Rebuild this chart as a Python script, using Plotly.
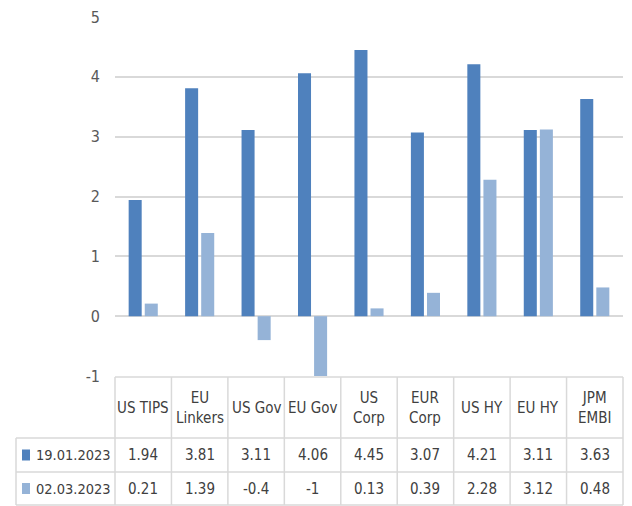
import plotly.graph_objects as go

categories = ["US TIPS", "EU<br>Linkers", "US Gov", "EU Gov", "US<br>Corp", "EUR<br>Corp", "US HY", "EU HY", "JPM<br>EMBI"]
series_names = ["19.01.2023", "02.03.2023"]
values_jan = [1.94, 3.81, 3.11, 4.06, 4.45, 3.07, 4.21, 3.11, 3.63]
values_mar = [0.21, 1.39, -0.4, -1, 0.13, 0.39, 2.28, 3.12, 0.48]
value_labels_jan = ["1.94", "3.81", "3.11", "4.06", "4.45", "3.07", "4.21", "3.11", "3.63"]
value_labels_mar = ["0.21", "1.39", "-0.4", "-1", "0.13", "0.39", "2.28", "3.12", "0.48"]
y_ticks = [-1, 0, 1, 2, 3, 4, 5]
y_tick_text = ["-1", "0", "1", "2", "3", "4", "5"]
colors = ["#4F81BD", "#95B3D7"]

W, H = 632, 506
L, R, T, B = 115, 9, 17, 130
PW, PH = W - L - R, H - T - B
FONT = "DejaVu Sans Condensed, Liberation Sans Narrow, sans-serif"
FS = 15
GRID = "#D9D9D9"
TXT = "#404040"

def px_x(px):
    return (px - L) / PW

def px_y(px):
    return (H - B - px) / PH

xs = list(range(len(categories)))
fig = go.Figure()
fig.add_trace(go.Bar(x=xs, y=values_jan, name=series_names[0], marker_color=colors[0],
                     marker_line_width=0))
fig.add_trace(go.Bar(x=xs, y=values_mar, name=series_names[1], marker_color=colors[1],
                     marker_line_width=0))

shapes = []
annotations = []
line = dict(color=GRID, width=1.5)
y_top = px_y(377)
y_r1 = px_y(438)
y_r2 = px_y(472)
y_bot = px_y(505)
x_left = px_x(16)
n = len(categories)
shapes.append(dict(type="line", xref="paper", yref="paper", x0=0, x1=1, y0=y_top, y1=y_top, line=line))
for yy in (y_r1, y_r2, y_bot):
    shapes.append(dict(type="line", xref="paper", yref="paper", x0=x_left, x1=1, y0=yy, y1=yy, line=line))
for i in range(n + 1):
    xv = i / n
    shapes.append(dict(type="line", xref="paper", yref="paper", x0=xv, x1=xv, y0=y_top, y1=y_bot, line=line))
shapes.append(dict(type="line", xref="paper", yref="paper", x0=x_left, x1=x_left, y0=y_r1, y1=y_bot, line=line))

tfont = dict(family=FONT, size=FS, color=TXT)
lfont = dict(family=FONT, size=14.5, color=TXT)
for i, c in enumerate(categories):
    xc = (i + 0.5) / n
    annotations.append(dict(x=xc, y=(y_top + y_r1) / 2, xref="paper", yref="paper", text=c,
                            showarrow=False, font=tfont, xanchor="center", yanchor="middle"))
    annotations.append(dict(x=xc, y=(y_r1 + y_r2) / 2, xref="paper", yref="paper", text=value_labels_jan[i],
                            showarrow=False, font=tfont, xanchor="center", yanchor="middle"))
    annotations.append(dict(x=xc, y=(y_r2 + y_bot) / 2, xref="paper", yref="paper", text=value_labels_mar[i],
                            showarrow=False, font=tfont, xanchor="center", yanchor="middle"))

for k, (yy0, yy1) in enumerate([(y_r1, y_r2), (y_r2, y_bot)]):
    ym = (yy0 + yy1) / 2
    shapes.append(dict(type="rect", xref="paper", yref="paper",
                       x0=px_x(22), x1=px_x(30), y0=ym - 5.5 / PH, y1=ym + 5.5 / PH,
                       fillcolor=colors[k], line=dict(width=0)))
    annotations.append(dict(x=px_x(34), y=ym, xref="paper", yref="paper", text=series_names[k],
                            showarrow=False, font=lfont, xanchor="left", yanchor="middle"))

fig.update_layout(
    width=W, height=H,
    margin=dict(l=L, r=R, t=T, b=B, pad=0),
    paper_bgcolor="white", plot_bgcolor="white",
    showlegend=False,
    barmode="group", bargap=0.43, bargroupgap=0.19,
    shapes=shapes, annotations=annotations,
    font=dict(family=FONT, size=FS, color="#595959"),
)
fig.update_xaxes(range=[-0.5, n - 0.5], showticklabels=False, showgrid=False, zeroline=False,
                 showline=False, ticks="")
fig.update_yaxes(range=[-1, 5], tickvals=y_ticks, ticktext=y_tick_text, showgrid=True,
                 gridcolor=GRID, gridwidth=1.5,
                 zeroline=True, zerolinecolor=GRID, zerolinewidth=1.5, showline=False,
                 ticks="", ticklabelstandoff=14, tickfont=dict(family=FONT, size=16, color="#595959"))

fig.write_html("out.html")
